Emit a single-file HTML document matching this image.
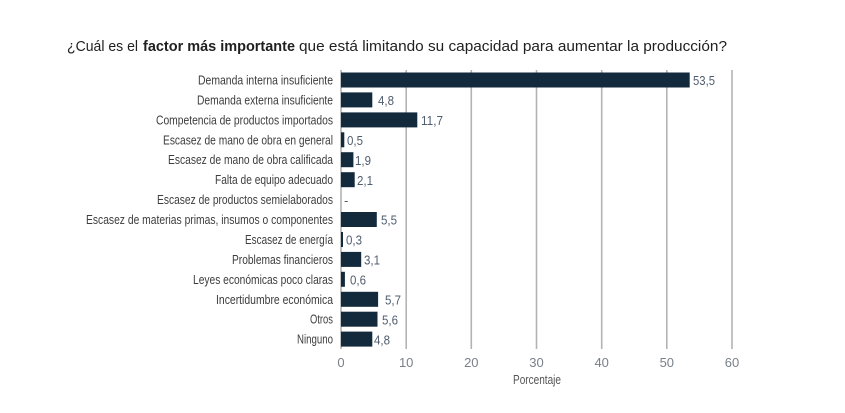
<!DOCTYPE html>
<html><head><meta charset="utf-8"><style>
html,body{margin:0;padding:0;background:#fff;}
svg{display:block;}
text{font-family:"Liberation Sans Narrow","Liberation Sans",sans-serif;}
</style></head><body>
<svg width="845" height="413" viewBox="0 0 845 413" xmlns="http://www.w3.org/2000/svg">
<rect width="845" height="413" fill="#fff"/>
<!-- title -->
<g font-family="Liberation Sans, sans-serif" font-size="15" fill="#1f1f1f">
<text x="67" y="51" textLength="71" lengthAdjust="spacingAndGlyphs">¿Cuál es el</text>
<text x="143" y="51" font-weight="bold" textLength="152" lengthAdjust="spacingAndGlyphs">factor más importante</text>
<text x="299" y="51" textLength="428" lengthAdjust="spacingAndGlyphs">que está limitando su capacidad para aumentar la producción?</text>
</g>
<!-- gridlines -->
<g stroke="#b3b3b3" stroke-width="1.6">
<line x1="341" y1="70" x2="341" y2="349"/>
<line x1="406.2" y1="70" x2="406.2" y2="349"/>
<line x1="471.3" y1="70" x2="471.3" y2="349"/>
<line x1="536.5" y1="70" x2="536.5" y2="349"/>
<line x1="601.7" y1="70" x2="601.7" y2="349"/>
<line x1="666.8" y1="70" x2="666.8" y2="349"/>
<line x1="732" y1="70" x2="732" y2="349"/>
</g>
<!-- bars -->
<g fill="#132a3c">
<rect x="341" y="72.5" width="348.7" height="15"/>
<rect x="341" y="92.4" width="31.3" height="15"/>
<rect x="341" y="112.4" width="76.3" height="15"/>
<rect x="341" y="132.3" width="3.3" height="15"/>
<rect x="341" y="152.2" width="12.4" height="15"/>
<rect x="341" y="172.2" width="13.7" height="15"/>
<rect x="341" y="212.0" width="35.8" height="15"/>
<rect x="341" y="232.0" width="2" height="15"/>
<rect x="341" y="251.9" width="20.2" height="15"/>
<rect x="341" y="271.8" width="3.9" height="15"/>
<rect x="341" y="291.8" width="37.1" height="15"/>
<rect x="341" y="311.7" width="36.5" height="15"/>
<rect x="341" y="331.6" width="31.3" height="15"/>
</g>
<!-- category labels -->
<g font-size="13" fill="#3d3d3d" text-anchor="end">
<text x="333" y="84.5" textLength="135" lengthAdjust="spacingAndGlyphs">Demanda interna insuficiente</text>
<text x="333" y="104.4" textLength="136" lengthAdjust="spacingAndGlyphs">Demanda externa insuficiente</text>
<text x="333" y="124.4" textLength="177" lengthAdjust="spacingAndGlyphs">Competencia de productos importados</text>
<text x="333" y="144.3" textLength="170" lengthAdjust="spacingAndGlyphs">Escasez de mano de obra en general</text>
<text x="333" y="164.2" textLength="165" lengthAdjust="spacingAndGlyphs">Escasez de mano de obra calificada</text>
<text x="333" y="184.2" textLength="118" lengthAdjust="spacingAndGlyphs">Falta de equipo adecuado</text>
<text x="333" y="204.1" textLength="176" lengthAdjust="spacingAndGlyphs">Escasez de productos semielaborados</text>
<text x="333" y="224.0" textLength="247" lengthAdjust="spacingAndGlyphs">Escasez de materias primas, insumos o componentes</text>
<text x="333" y="244.0" textLength="88" lengthAdjust="spacingAndGlyphs">Escasez de energía</text>
<text x="333" y="263.9" textLength="101" lengthAdjust="spacingAndGlyphs">Problemas financieros</text>
<text x="333" y="283.8" textLength="140" lengthAdjust="spacingAndGlyphs">Leyes económicas poco claras</text>
<text x="333" y="303.8" textLength="117" lengthAdjust="spacingAndGlyphs">Incertidumbre económica</text>
<text x="333" y="323.7" textLength="23" lengthAdjust="spacingAndGlyphs">Otros</text>
<text x="333" y="343.6" textLength="36" lengthAdjust="spacingAndGlyphs">Ninguno</text>
</g>
<!-- value labels -->
<g font-size="13" fill="#4f5d6e">
<text x="693" y="85.2" textLength="22" lengthAdjust="spacingAndGlyphs">53,5</text>
<text x="378" y="105.2" textLength="16" lengthAdjust="spacingAndGlyphs">4,8</text>
<text x="421" y="125.2" textLength="22" lengthAdjust="spacingAndGlyphs">11,7</text>
<text x="347" y="145" textLength="16" lengthAdjust="spacingAndGlyphs">0,5</text>
<text x="355" y="164.9" textLength="16" lengthAdjust="spacingAndGlyphs">1,9</text>
<text x="357" y="184.9" textLength="16" lengthAdjust="spacingAndGlyphs">2,1</text>
<text x="344" y="204.8">-</text>
<text x="381" y="224.7" textLength="16" lengthAdjust="spacingAndGlyphs">5,5</text>
<text x="346" y="244.7" textLength="16" lengthAdjust="spacingAndGlyphs">0,3</text>
<text x="364" y="264.6" textLength="16" lengthAdjust="spacingAndGlyphs">3,1</text>
<text x="350" y="284.5" textLength="16" lengthAdjust="spacingAndGlyphs">0,6</text>
<text x="385" y="304.5" textLength="16" lengthAdjust="spacingAndGlyphs">5,7</text>
<text x="382" y="324.4" textLength="16" lengthAdjust="spacingAndGlyphs">5,6</text>
<text x="374" y="344.3" textLength="16" lengthAdjust="spacingAndGlyphs">4,8</text>
</g>
<!-- ticks -->
<g font-size="13" fill="#7a808a" text-anchor="middle">
<text x="341" y="367">0</text>
<text x="406.2" y="367">10</text>
<text x="471.3" y="367">20</text>
<text x="536.5" y="367">30</text>
<text x="601.7" y="367">40</text>
<text x="666.8" y="367">50</text>
<text x="732" y="367">60</text>
</g>
<text x="513" y="384" font-size="12.5" fill="#555" textLength="48" lengthAdjust="spacingAndGlyphs">Porcentaje</text>
</svg>
</body></html>
